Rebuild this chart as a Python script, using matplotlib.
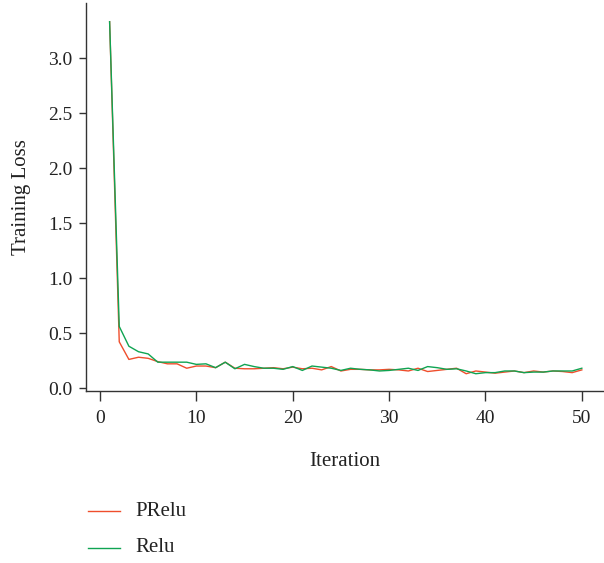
import matplotlib
matplotlib.use("Agg")
import matplotlib.pyplot as plt
from matplotlib.lines import Line2D

iterations = list(range(1, 51))
prelu = [3.33, 0.42, 0.26, 0.28, 0.27, 0.24, 0.22, 0.22, 0.18, 0.20,
         0.20, 0.185, 0.235, 0.18, 0.175, 0.175, 0.18, 0.185, 0.175, 0.19,
         0.175, 0.18, 0.165, 0.195, 0.155, 0.17, 0.17, 0.165, 0.165, 0.17,
         0.165, 0.155, 0.18, 0.15, 0.16, 0.17, 0.18, 0.13, 0.155, 0.145,
         0.135, 0.145, 0.155, 0.14, 0.155, 0.145, 0.155, 0.15, 0.14, 0.165]
relu = [3.33, 0.56, 0.38, 0.33, 0.31, 0.235, 0.235, 0.235, 0.235, 0.215,
        0.22, 0.185, 0.235, 0.175, 0.215, 0.195, 0.18, 0.18, 0.17, 0.195,
        0.16, 0.20, 0.19, 0.18, 0.16, 0.18, 0.17, 0.165, 0.155, 0.16,
        0.17, 0.18, 0.16, 0.195, 0.185, 0.17, 0.175, 0.155, 0.13, 0.14,
        0.14, 0.155, 0.155, 0.14, 0.145, 0.145, 0.155, 0.155, 0.155, 0.18]
series_names = ["PRelu", "Relu"]
colors = ["#EF4E2C", "#0FA452"]
xticks = [0, 10, 20, 30, 40, 50]
yticks = [0.0, 0.5, 1.0, 1.5, 2.0, 2.5, 3.0]

plt.rcParams['font.family'] = ['Liberation Serif', 'DejaVu Serif']

fig = plt.figure(figsize=(6.04, 5.63), dpi=100)
W, H = 604, 563
ax = fig.add_axes([86 / W, 1 - 391 / H, (604 - 86) / W, (391 - 3) / H])

ax.plot(iterations, prelu, color=colors[0], lw=1.0)
ax.plot(iterations, relu, color=colors[1], lw=1.0)

ax.set_xlim(-1.45, 52.3)
ax.set_ylim(-0.027, 3.50)
ax.set_xticks(xticks)
ax.set_yticks(yticks)
ax.set_yticklabels([f"{v:.1f}" for v in yticks])

for s in ['top', 'right']:
    ax.spines[s].set_visible(False)
for s in ['left', 'bottom']:
    ax.spines[s].set_color('#333333')
    ax.spines[s].set_linewidth(1.0)

ax.tick_params(axis='x', direction='out', length=7, width=1.0, color='#333333',
               labelsize=14, labelcolor='#222222', pad=7)
ax.tick_params(axis='y', direction='out', length=5, width=1.0, color='#333333',
               labelsize=14, labelcolor='#222222', pad=5)

ax.set_xlabel("Iteration", fontsize=15, color='#222222', labelpad=18)
ax.set_ylabel("Training Loss", fontsize=15, color='#222222', labelpad=12)

# legend drawn below the plot
leg_y = [511, 548]
for name, c, yy in zip(series_names, colors, leg_y):
    fig.add_artist(Line2D([88 / W, 120 / W], [1 - yy / H, 1 - yy / H],
                          color=c, lw=1.0, transform=fig.transFigure))
    fig.text(135 / W, 1 - yy / H, name, fontsize=15, color='#222222',
             ha='left', va='center')

fig.savefig("out.png", dpi=100)
